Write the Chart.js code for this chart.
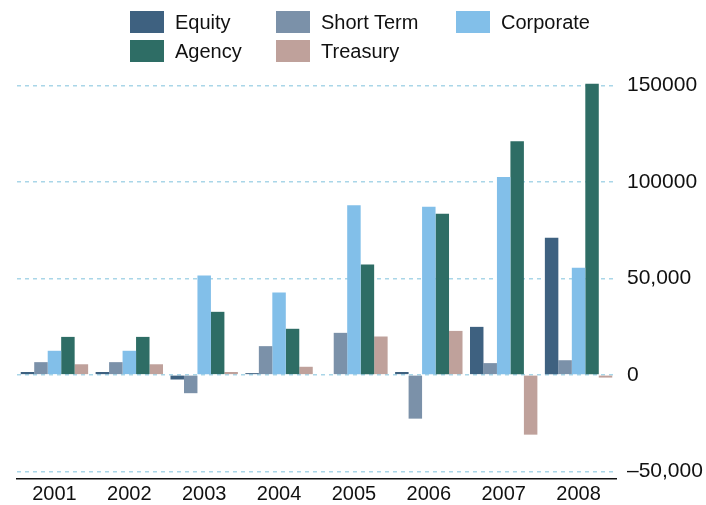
<!DOCTYPE html>
<html>
<head>
<meta charset="utf-8">
<script src="https://cdn.jsdelivr.net/npm/chart.js@4/dist/chart.umd.min.js"></script>
<style>
  html, body { margin: 0; padding: 0; background: #fff; }
  #wrap { position: relative; width: 706px; height: 505px; }
  #legend {
    position: absolute; left: 130px; top: 11px;
    display: grid; grid-template-columns: 146px 180px auto; grid-auto-rows: 29px;
    font-family: "Liberation Sans", Arial, sans-serif; font-size: 20px; color: #111;
  }
  .item { display: flex; align-items: flex-start; }
  .box { width: 34px; height: 22px; margin-right: 11px; }
  .item span { line-height: 22px; }
</style>
</head>
<body>
<div id="wrap">
  <canvas id="chart" width="706" height="505"></canvas>
  <div id="legend"></div>
</div>
<script>
// values
const years = ["2001", "2002", "2003", "2004", "2005", "2006", "2007", "2008"];
const seriesNames = ["Equity", "Short Term", "Corporate", "Agency", "Treasury"];
const seriesColors = ["#3e6180", "#7b91a9", "#82bfe9", "#2e6d65", "#bfa19b"];

const equity    = [1500, 1500, -2400, 900, 400, 1500, 24900, 71100];
const shortTerm = [6600, 6600, -9500, 14900, 21800, -22700, 6100, 7600];
const corporate = [12500, 12500, 51500, 42700, 88000, 87200, 102600, 55500];
const agency    = [19700, 19700, 32700, 23900, 57300, 83600, 121200, 151000];
const treasury  = [5500, 5500, 1500, 4200, 19900, 22800, -31000, -1400];

const yTickValues = [-50000, 0, 50000, 100000, 150000];
const yTickLabels = ["\u201350,000", "0", "50,000", "100000", "150000"];

const allSeries = [equity, shortTerm, corporate, agency, treasury];

// legend in a 3-column grid
const legendEl = document.getElementById("legend");
seriesNames.forEach((name, i) => {
  const item = document.createElement("div");
  item.className = "item";
  item.innerHTML = '<div class="box" style="background:' + seriesColors[i] + '"></div><span>' + name + '</span>';
  legendEl.appendChild(item);
});

const FONT = "'Liberation Sans', Arial, sans-serif";

new Chart(document.getElementById("chart").getContext("2d"), {
  type: "bar",
  data: {
    labels: years,
    datasets: seriesNames.map((name, i) => ({
      label: name,
      data: allSeries[i],
      backgroundColor: seriesColors[i],
      borderWidth: 0,
      barPercentage: 1,
      categoryPercentage: 0.9
    }))
  },
  options: {
    responsive: false,
    animation: false,
    layout: { padding: { top: 76, left: 17, right: 0, bottom: 0 } },
    plugins: { legend: { display: false }, tooltip: { enabled: false } },
    scales: {
      x: {
        grid: { display: false, drawTicks: false },
        border: { display: true, color: "#111", width: 1.5 },
        ticks: { color: "#111", font: { family: FONT, size: 20 }, padding: 3 },
        afterFit: axis => { axis.height = 26; }
      },
      y: {
        position: "right",
        min: -54000,
        max: 155000,
        afterBuildTicks: axis => { axis.ticks = yTickValues.map(v => ({ value: v })); },
        afterFit: axis => { axis.width = 90; },
        grid: { color: "#a9d6e8", lineWidth: 1.5, drawTicks: false },
        border: { display: false, dash: [4, 4] },
        ticks: {
          color: "#111",
          font: { family: FONT, size: 21 },
          padding: 11,
          callback: v => yTickLabels[yTickValues.indexOf(v)]
        }
      }
    }
  }
});
</script>
</body>
</html>
